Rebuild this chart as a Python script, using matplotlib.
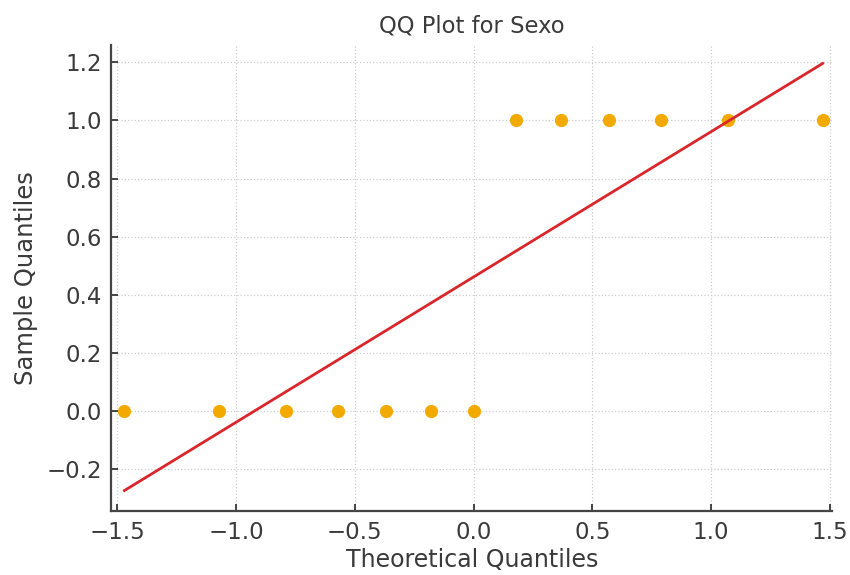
import numpy as np
import matplotlib
matplotlib.use("Agg")
import matplotlib.pyplot as plt

theoretical_q = [-1.47, -1.07, -0.79, -0.57, -0.37, -0.18, 0.0,
                 0.18, 0.37, 0.57, 0.79, 1.07, 1.47]
sample_q = [0, 0, 0, 0, 0, 0, 0, 1, 1, 1, 1, 1, 1]
fit_slope = 0.4997
fit_intercept = 0.4615
x_ticks = [-1.5, -1.0, -0.5, 0.0, 0.5, 1.0, 1.5]
y_ticks = [-0.2, 0.0, 0.2, 0.4, 0.6, 0.8, 1.0, 1.2]

txt = '#3a3a3a'
fig = plt.figure(figsize=(8.5, 5.75), dpi=100)
ax = fig.add_axes([0.131, 0.111, 0.848, 0.811])

x = np.array(theoretical_q)
ax.plot(x, sample_q, 'o', color='#F2A900', ms=8.5, zorder=3)
ax.plot(x, fit_slope * x + fit_intercept, '-', color='#D9262B', lw=2, zorder=4)

ax.set_xlim(-1.525, 1.51)
ax.set_ylim(-0.344, 1.26)
ax.set_xticks(x_ticks)
ax.set_yticks(y_ticks)
ax.set_xticklabels([f"{v:.1f}".replace('-', '\u2212') for v in x_ticks])
ax.set_yticklabels([f"{v:.1f}".replace('-', '\u2212') for v in y_ticks])
ax.grid(True, linestyle=':', color='#cccccc', linewidth=0.9)
ax.set_axisbelow(True)
for s in ['top', 'right']:
    ax.spines[s].set_visible(False)
for s in ['left', 'bottom']:
    ax.spines[s].set_color('#444444')
    ax.spines[s].set_linewidth(1.6)
ax.tick_params(direction='in', length=5, width=1.4, colors='#444444',
               labelcolor=txt, labelsize=16.5, pad=7)
ax.set_xlabel('Theoretical Quantiles', fontsize=17, color=txt, labelpad=3)
ax.set_ylabel('Sample Quantiles', fontsize=17.5, color=txt, labelpad=6)
ax.set_title('QQ Plot for Sexo', fontsize=16.3, color=txt, pad=9)

fig.savefig('out.png', dpi=100)
